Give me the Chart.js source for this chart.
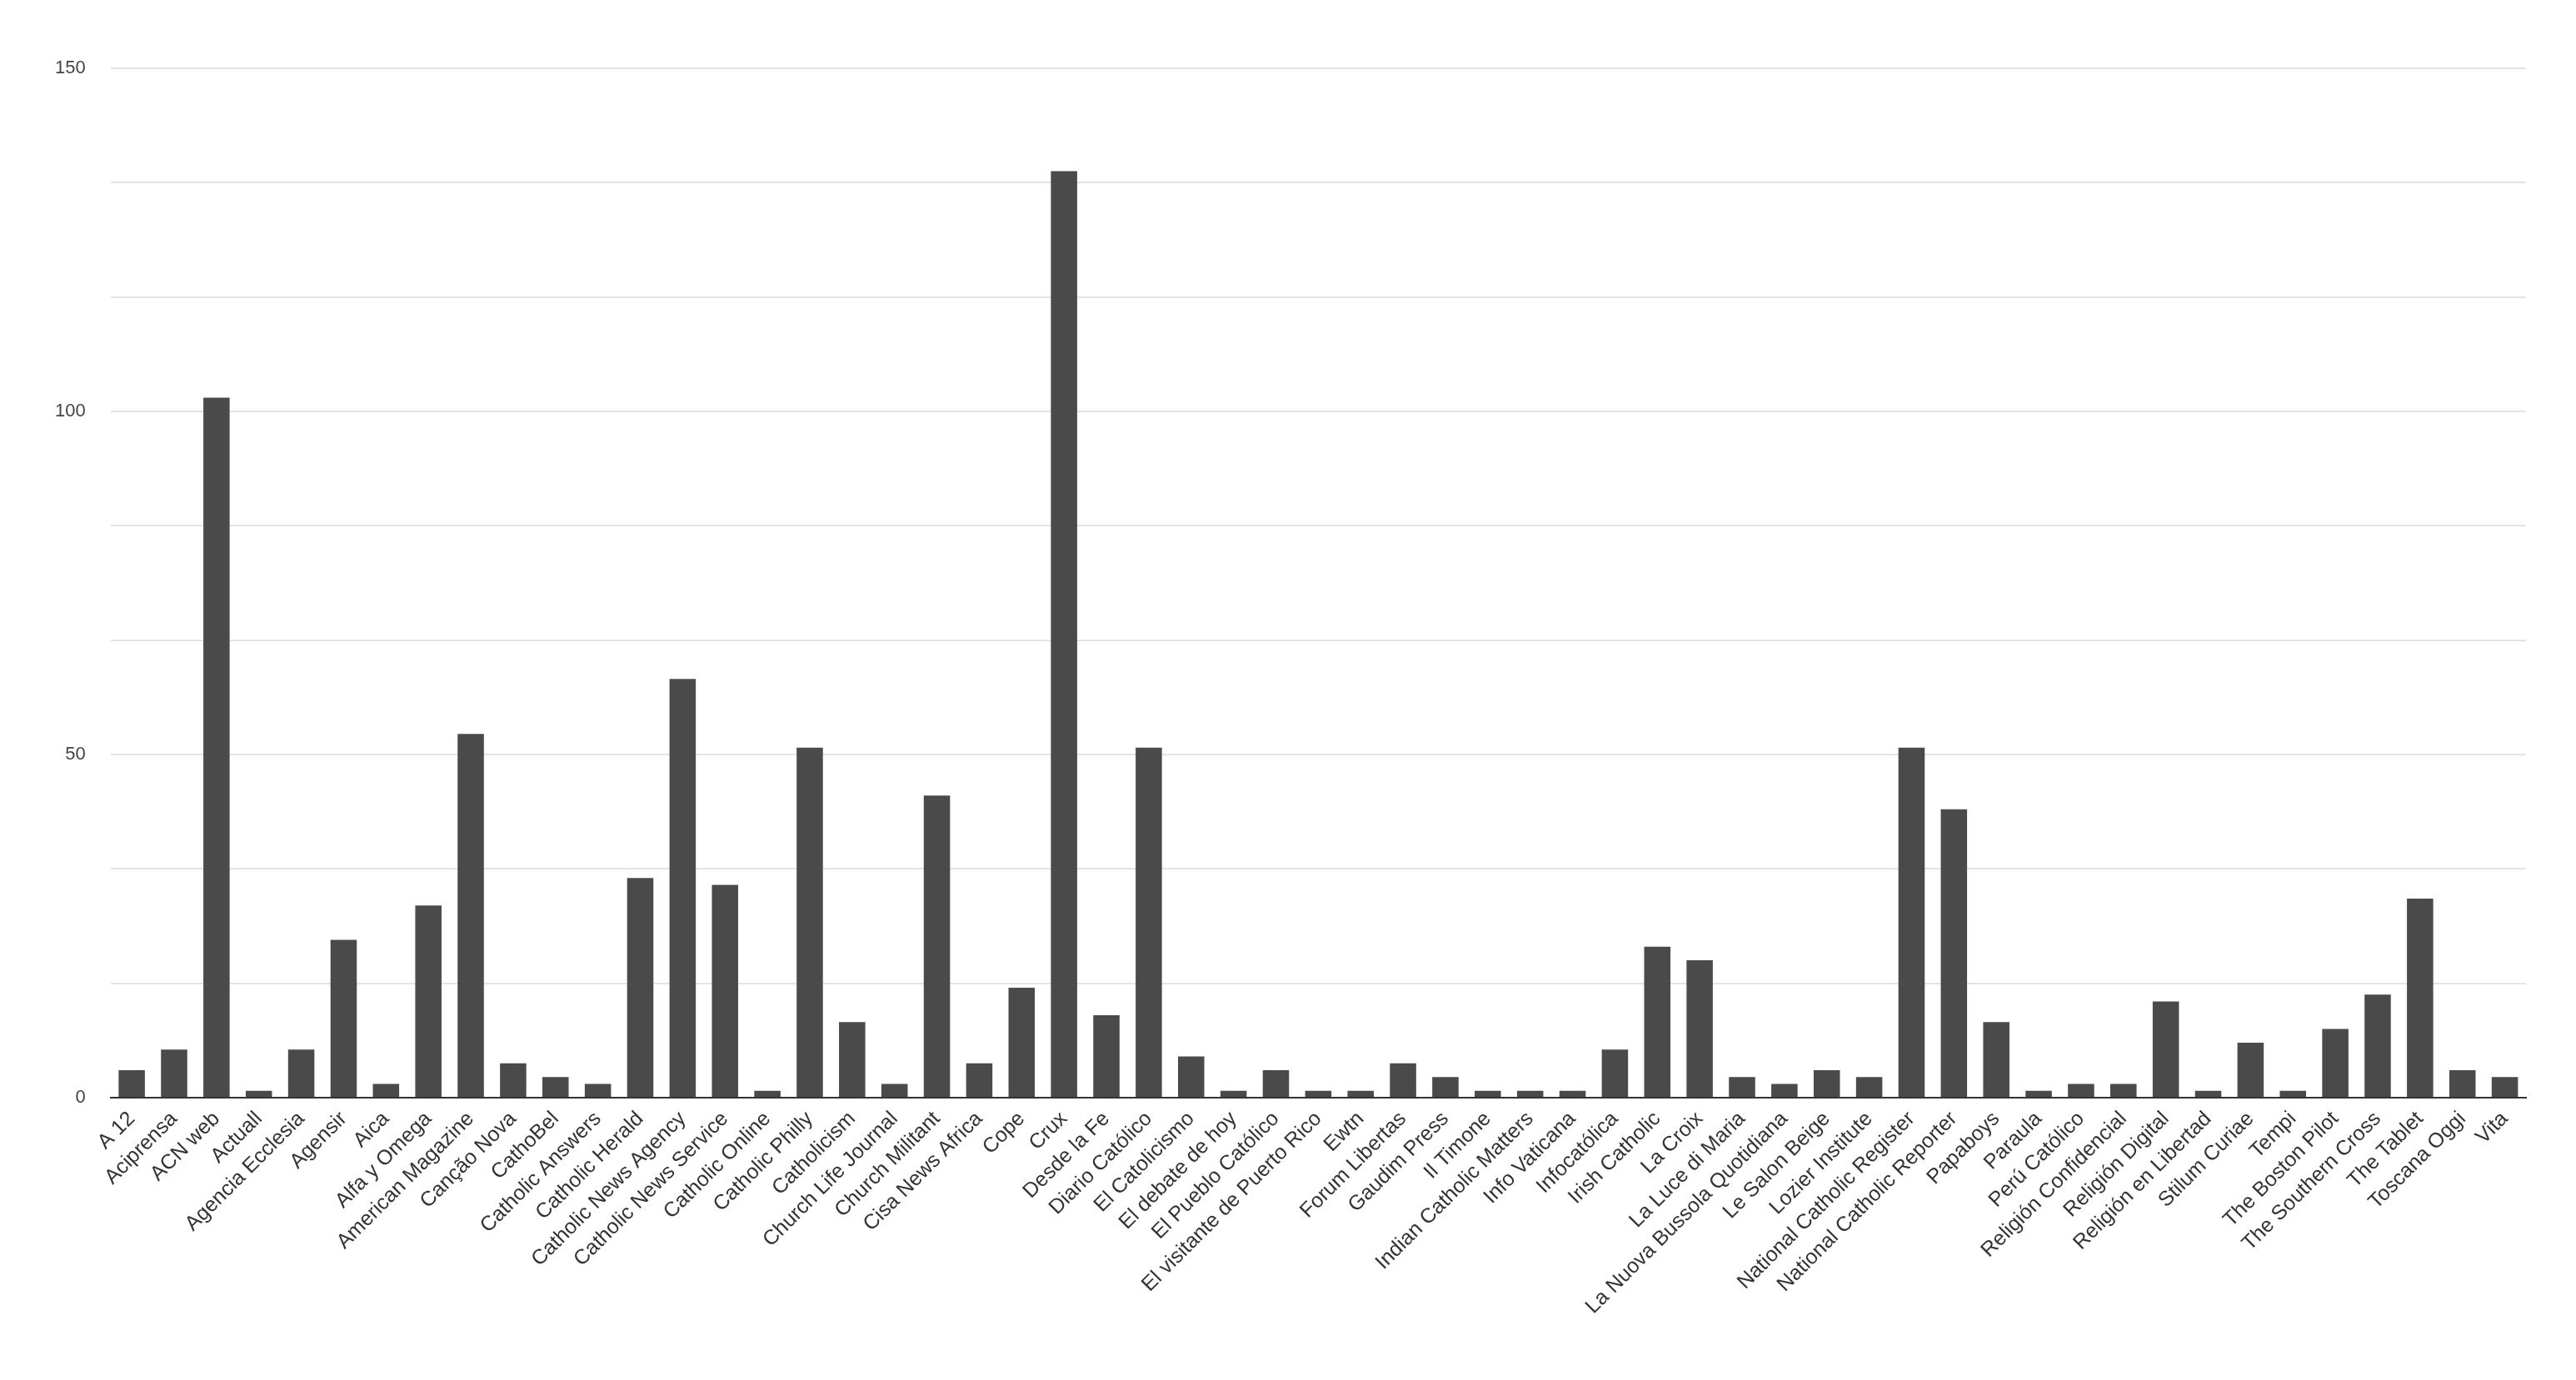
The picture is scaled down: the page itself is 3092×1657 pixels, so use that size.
<!DOCTYPE html>
<html>
<head>
<meta charset="utf-8">
<script src="https://cdn.jsdelivr.net/npm/chart.js@4"></script>
<style>
  html, body { margin: 0; padding: 0; background: #fff; }
  #wrap { width: 3092px; height: 1657px; }
</style>
</head>
<body>
<div id="wrap"><canvas id="chart"></canvas></div>
<script>
// --- Data ---
const sources = ['A 12', 'Aciprensa', 'ACN web', 'Actuall', 'Agencia Ecclesia', 'Agensir', 'Aica',
  'Alfa y Omega', 'American Magazine', 'Canção Nova', 'CathoBel', 'Catholic Answers', 'Catholic Herald',
  'Catholic News Agency', 'Catholic News Service', 'Catholic Online', 'Catholic Philly', 'Catholicism',
  'Church Life Journal', 'Church Militant', 'Cisa News Africa', 'Cope', 'Crux', 'Desde la Fe',
  'Diario Católico', 'El Catolicismo', 'El debate de hoy', 'El Pueblo Católico',
  'El visitante de Puerto Rico', 'Ewtn', 'Forum Libertas', 'Gaudim Press', 'Il Timone',
  'Indian Catholic Matters', 'Info Vaticana', 'Infocatólica', 'Irish Catholic', 'La Croix',
  'La Luce di Maria', 'La Nuova Bussola Quotidiana', 'Le Salon Beige', 'Lozier Institute',
  'National Catholic Register', 'National Catholic Reporter', 'Papaboys', 'Paraula', 'Perú Católico',
  'Religión Confidencial', 'Religión Digital', 'Religión en Libertad', 'Stilum Curiae', 'Tempi',
  'The Boston Pilot', 'The Southern Cross', 'The Tablet', 'Toscana Oggi', 'Vita'];
const counts = [4, 7, 102, 1, 7, 23, 2, 28, 53, 5, 3, 2, 32, 61, 31, 1, 51, 11, 2, 44, 5, 16, 135, 12,
  51, 6, 1, 4, 1, 1, 5, 3, 1, 1, 1, 7, 22, 20, 3, 2, 4, 3, 51, 42, 11, 1, 2, 2, 14, 1, 8, 1, 10, 15, 29, 4, 3];
const yLabels = [0, 50, 100, 150];

const ctx = document.getElementById('chart').getContext('2d');
new Chart(ctx, {
  type: 'bar',
  data: {
    labels: sources,
    datasets: [{
      data: counts,
      backgroundColor: '#4a4a4a',
      barPercentage: 0.62,
      categoryPercentage: 1.0
    }]
  },
  options: {
    responsive: true,
    maintainAspectRatio: false,
    devicePixelRatio: 1,
    animation: false,
    layout: { padding: { left: 36, right: 60, top: 82, bottom: 70 } },
    plugins: { legend: { display: false }, tooltip: { enabled: false } },
    scales: {
      x: {
        grid: { display: false },
        border: { color: '#333', width: 2 },
        ticks: {
          color: '#333',
          font: { family: 'Liberation Sans', size: 25 },
          maxRotation: 45, minRotation: 45, autoSkip: false
        }
      },
      y: {
        min: 0, max: 150,
        border: { display: false },
        grid: { color: '#e3e3e3', lineWidth: 2, drawTicks: false },
        afterBuildTicks: (axis) => {
          const t = [];
          for (let i = 0; i <= 9; i++) t.push({ value: i * 50 / 3 });
          axis.ticks = t;
        },
        ticks: {
          color: '#444',
          padding: 30,
          font: { family: 'Liberation Sans', size: 22 },
          callback: (v) => {
            const r = Math.round(v);
            return (Math.abs(v - r) < 0.01 && yLabels.includes(r)) ? String(r) : '';
          }
        }
      }
    }
  }
});
</script>
</body>
</html>
